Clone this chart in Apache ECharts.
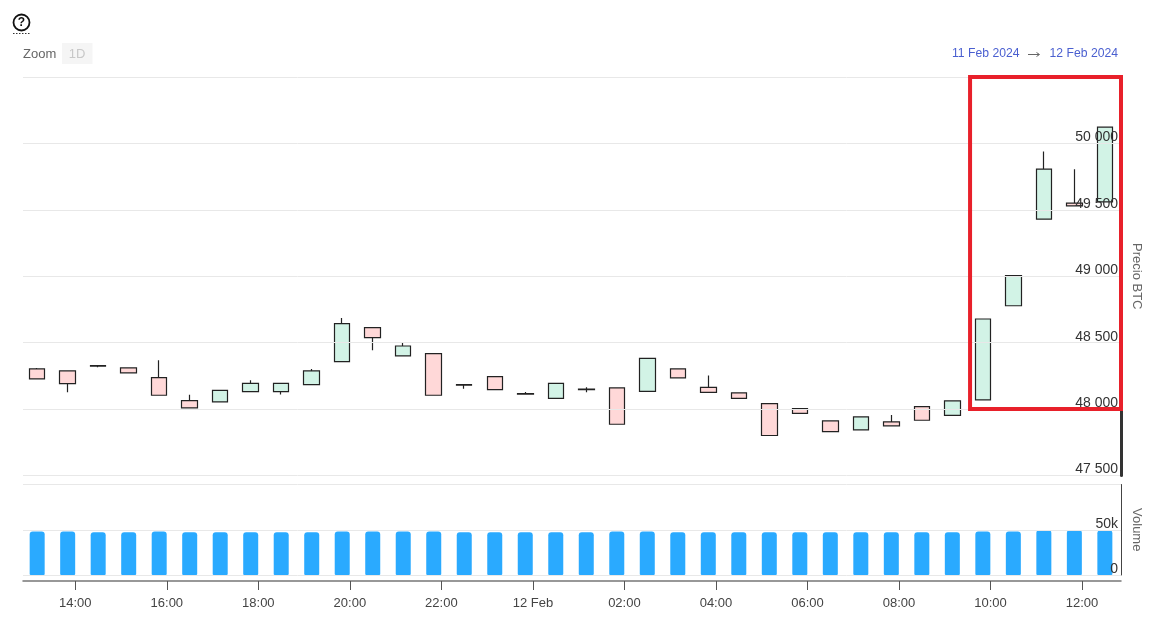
<!DOCTYPE html>
<html>
<head>
<meta charset="utf-8">
<title>Precio BTC</title>
<style>
html, body { margin: 0; padding: 0; background: #fff; }
#chart { width: 1165px; height: 620px; }
</style>
<script src="https://cdn.jsdelivr.net/npm/echarts@6/dist/echarts.min.js"></script>
</head>
<body>
<div id="chart"></div>
<script>
// candle times, one every 40 min
var candleTimes = [
	'2024-02-11 13:10', '2024-02-11 13:50', '2024-02-11 14:30', '2024-02-11 15:10', '2024-02-11 15:50', '2024-02-11 16:30',
	'2024-02-11 17:10', '2024-02-11 17:50', '2024-02-11 18:30', '2024-02-11 19:10', '2024-02-11 19:50', '2024-02-11 20:30',
	'2024-02-11 21:10', '2024-02-11 21:50', '2024-02-11 22:30', '2024-02-11 23:10', '2024-02-11 23:50', '2024-02-12 00:30',
	'2024-02-12 01:10', '2024-02-12 01:50', '2024-02-12 02:30', '2024-02-12 03:10', '2024-02-12 03:50', '2024-02-12 04:30',
	'2024-02-12 05:10', '2024-02-12 05:50', '2024-02-12 06:30', '2024-02-12 07:10', '2024-02-12 07:50', '2024-02-12 08:30',
	'2024-02-12 09:10', '2024-02-12 09:50', '2024-02-12 10:30', '2024-02-12 11:10', '2024-02-12 11:50', '2024-02-12 12:30'
];
var openValues = [
	48302, 48287, 48328, 48310, 48237, 48064, 48054, 48132, 48132, 48184, 48357, 48613,
	48400, 48417, 48184, 48244, 48116, 48081, 48150, 48159, 48134, 48302, 48164, 48122,
	48041, 48004, 47911, 47844, 47904, 48019, 47953, 48069, 48778, 49430, 49551, 49560
];
var closeValues = [
	48227, 48192, 48324, 48272, 48104, 48009, 48141, 48194, 48194, 48287, 48643, 48538,
	48475, 48104, 48180, 48147, 48112, 48194, 48146, 47886, 48382, 48235, 48126, 48081,
	47801, 47968, 47831, 47941, 47874, 47916, 48062, 48678, 49004, 49806, 49530, 50122
];
var lowValues = [
	48227, 48126, 48314, 48272, 48104, 48009, 48054, 48132, 48109, 48184, 48357, 48442,
	48400, 48104, 48154, 48147, 48112, 48081, 48126, 47886, 48134, 48235, 48126, 48081,
	47801, 47968, 47831, 47844, 47874, 47916, 47953, 48069, 48778, 49430, 49530, 49560
];
var highValues = [
	48310, 48287, 48328, 48310, 48367, 48107, 48141, 48217, 48194, 48302, 48686, 48613,
	48505, 48417, 48184, 48244, 48129, 48194, 48164, 48159, 48382, 48302, 48252, 48122,
	48041, 48004, 47911, 47941, 47956, 48019, 48062, 48678, 49004, 49939, 49806, 50122
];
var volumeValues = [
	48200, 48200, 47200, 47200, 48200, 47200, 47200, 47200, 47200, 47200, 48000, 48200,
	48000, 48200, 47200, 47200, 47200, 47200, 47200, 48000, 48000, 47200, 47200, 47200,
	47200, 47200, 47200, 47200, 47200, 47200, 47200, 48200, 48200, 49800, 49800, 49500
];
var xTicks = [
	'2024-02-11 14:00', '2024-02-11 16:00', '2024-02-11 18:00', '2024-02-11 20:00', '2024-02-11 22:00', '2024-02-12 00:00',
	'2024-02-12 02:00', '2024-02-12 04:00', '2024-02-12 06:00', '2024-02-12 08:00', '2024-02-12 10:00', '2024-02-12 12:00'
];
var xStart = '2024-02-11 12:51:25';
var xEnd = '2024-02-12 12:51:10';
// red box corners, in data values
var boxStart = '2024-02-12 09:33:15';
var boxLow = 48000;
var boxHigh = 50500;

var FONT = '"Liberation Sans", Arial, sans-serif';
var GREY = '#666';

function toTime(s) {
	return echarts.time.parse(s).getTime();
}
function pad(n) {
	return n < 10 ? '0' + n : '' + n;
}

var tickValues = xTicks.map(toTime);
var candleData = candleTimes.map(function (t, i) {
	return [toTime(t), openValues[i], closeValues[i], lowValues[i], highValues[i]];
});
var volumeData = candleTimes.map(function (t, i) {
	return [toTime(t), volumeValues[i]];
});

var myChart = echarts.init(document.getElementById('chart'), null, { renderer: 'canvas' });
var option = {
	animation: false,
	backgroundColor: '#fff',
	textStyle: { fontFamily: FONT },
	grid: [
		{ left: 23, right: 44, top: 77, height: 398.5 },
		{ left: 23, right: 44, top: 484.5, height: 90.5 }
	],
	xAxis: [
		{
			// plain value axis in ms, customValues does not work on a time axis
			type: 'value', gridIndex: 0, min: toTime(xStart), max: toTime(xEnd),
			scale: true,
			show: false
		},
		{
			type: 'value', gridIndex: 1, min: toTime(xStart), max: toTime(xEnd),
			scale: true,
			offset: 6,
			axisLine: { show: true, onZero: false, lineStyle: { color: '#777', width: 1.5 } },
			axisTick: { show: true, customValues: tickValues, length: 9, lineStyle: { color: '#555', width: 1 } },
			splitLine: { show: false },
			axisLabel: {
				customValues: tickValues,
				color: '#444', fontSize: 13, fontFamily: FONT, margin: 16,
				hideOverlap: false,
				formatter: function (v) {
					var d = new Date(v);
					if (d.getHours() === 0) {
						return '12 Feb';
					}
					return pad(d.getHours()) + ':' + pad(d.getMinutes());
				}
			}
		}
	],
	yAxis: [
		{
			type: 'value', gridIndex: 0, position: 'right', min: 47500, max: 50500, interval: 500,
			z: 3,
			name: 'Precio BTC', nameLocation: 'middle', nameRotate: -90, nameGap: 0,
			nameTextStyle: { color: GREY, fontSize: 13, fontFamily: FONT },
			axisLine: { show: true, lineStyle: { color: '#333', width: 3 } },
			axisTick: { show: false },
			splitLine: { show: true, lineStyle: { color: '#e8e8e8', width: 1 } },
			axisLabel: {
				inside: true, margin: 3, verticalAlign: 'bottom', showMaxLabel: false,
				padding: [0, 0, -1, 0],
				color: '#333', fontSize: 14, fontFamily: FONT,
				formatter: function (v) {
					return String(v).replace(/(\d{3})$/, ' $1');
				}
			}
		},
		{
			type: 'value', gridIndex: 1, position: 'right', min: 0, max: 100000, interval: 50000,
			z: 3,
			name: 'Volume', nameLocation: 'middle', nameRotate: -90, nameGap: 0,
			nameTextStyle: { color: GREY, fontSize: 13, fontFamily: FONT },
			axisLine: { show: true, lineStyle: { color: '#444', width: 1 } },
			axisTick: { show: false },
			splitLine: { show: true, lineStyle: { color: '#e8e8e8', width: 1 } },
			axisLabel: {
				inside: true, margin: 3, verticalAlign: 'bottom', showMaxLabel: false,
				padding: [0, 0, -1, 0],
				color: '#333', fontSize: 14, fontFamily: FONT,
				formatter: function (v) {
					return v === 0 ? '0' : (v / 1000) + 'k';
				}
			}
		}
	],
	series: [
		{
			name: 'Precio BTC',
			type: 'candlestick',
			xAxisIndex: 0,
			yAxisIndex: 0,
			barWidth: 16,
			z: 2,
			itemStyle: {
				color: '#d2f3e6',
				color0: '#ffd8d8',
				borderColor: '#222',
				borderColor0: '#222',
				borderWidth: 1.2
			},
			data: candleData
		},
		{
			name: 'Volume',
			type: 'bar',
			xAxisIndex: 1,
			yAxisIndex: 1,
			barWidth: 15,
			z: 2,
			itemStyle: { color: '#2aaaff', borderRadius: [3, 3, 1, 1] },
			data: volumeData
		}
	],
	graphic: [
		// help icon above the chart
		{ type: 'circle', shape: { cx: 21.5, cy: 22.5, r: 8 }, style: { fill: 'none', stroke: '#111', lineWidth: 1.8 } },
		{ type: 'text', x: 21.5, y: 23, style: { text: '?', fill: '#111', font: 'bold 12px ' + FONT, textAlign: 'center', textVerticalAlign: 'middle' } },
		{ type: 'line', shape: { x1: 13, y1: 33.5, x2: 30, y2: 33.5 }, style: { stroke: '#333', lineWidth: 1, lineDash: [1.5, 1.5] } },
		// zoom control
		{ type: 'text', x: 23, y: 54, style: { text: 'Zoom', fill: GREY, font: '13px ' + FONT, textVerticalAlign: 'middle' } },
		{ type: 'rect', shape: { x: 62, y: 43, width: 30.5, height: 21 }, style: { fill: '#f5f5f5' } },
		{ type: 'text', x: 77, y: 54, style: { text: '1D', fill: '#c8c8c8', font: '13px ' + FONT, textAlign: 'center', textVerticalAlign: 'middle' } },
		// date range
		{ type: 'text', x: 952, y: 53.5, style: { text: '11 Feb 2024', fill: '#4a5fd0', font: '12.2px ' + FONT, textVerticalAlign: 'middle' } },
		{ type: 'line', shape: { x1: 1028, y1: 54.5, x2: 1039, y2: 54.5 }, style: { stroke: GREY, lineWidth: 1 } },
		{ type: 'polyline', shape: { points: [[1036.5, 52.5], [1039.5, 54.5], [1036.5, 56.5]] }, style: { fill: 'none', stroke: GREY, lineWidth: 1 } },
		{ type: 'text', x: 1118, y: 53.5, style: { text: '12 Feb 2024', fill: '#4a5fd0', font: '12.2px ' + FONT, textAlign: 'right', textVerticalAlign: 'middle' } }
	]
};
myChart.setOption(option);

// red box goes on top of everything, placed through the axes
var boxA = myChart.convertToPixel({ gridIndex: 0 }, [toTime(boxStart), boxHigh]);
var boxB = myChart.convertToPixel({ gridIndex: 0 }, [toTime(xEnd), boxLow]);
myChart.setOption({
	graphic: option.graphic.concat([{
		type: 'rect',
		z: 100,
		shape: { x: boxA[0], y: boxA[1], width: boxB[0] - boxA[0], height: boxB[1] - boxA[1] },
		style: { fill: 'none', stroke: '#e8202a', lineWidth: 4 }
	}])
});
</script>
</body>
</html>
